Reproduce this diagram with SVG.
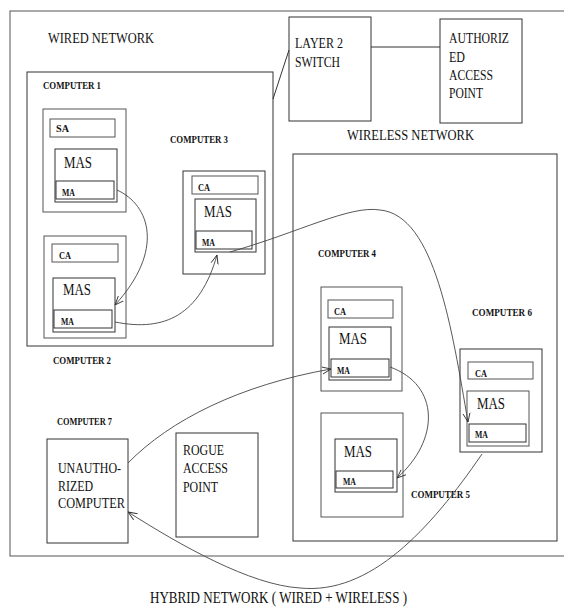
<svg xmlns="http://www.w3.org/2000/svg" width="564" height="608" viewBox="0 0 564 608">
<defs>
<style>
.b{fill:none;stroke:#333;stroke-width:1}
.g{fill:none;stroke:#555;stroke-width:1}
text{font-family:"Liberation Serif","Times New Roman",serif;fill:#111}
.t{font-size:14.5px}
.m{font-size:16px}
.s{font-size:11px;font-weight:bold}
.a{font-size:10px;font-weight:bold}
.h{font-size:16.5px}
.c{fill:none;stroke:#444;stroke-width:0.9}
</style>
<marker id="ah" viewBox="0 0 10 10" refX="10" refY="5" markerWidth="9" markerHeight="9" orient="auto" markerUnits="userSpaceOnUse">
<path d="M0,1 L10,5 L0,9" fill="none" stroke="#333" stroke-width="1"/>
</marker>
</defs>
<rect width="564" height="608" fill="#fff"/>

<g id="hybrid-network">
<rect class="g" x="10" y="11" width="560" height="545"/>
<text class="t" x="48" y="43" textLength="106" lengthAdjust="spacingAndGlyphs">WIRED NETWORK</text>
<text class="h" x="150" y="603" textLength="257" lengthAdjust="spacingAndGlyphs">HYBRID NETWORK ( WIRED + WIRELESS )</text>
</g>

<g id="wireless-network">
<rect class="b" x="293" y="154" width="264" height="387"/>
<text class="t" x="347" y="140" textLength="127" lengthAdjust="spacingAndGlyphs">WIRELESS NETWORK</text>
</g>

<g id="layer2-switch">
<rect class="b" x="289" y="17" width="82" height="104"/>
<text class="t" x="295" y="48" textLength="48" lengthAdjust="spacingAndGlyphs">LAYER 2</text>
<text class="t" x="295" y="67" textLength="45" lengthAdjust="spacingAndGlyphs">SWITCH</text>
</g>

<g id="authorized-ap">
<rect class="b" x="440" y="19" width="82" height="104"/>
<text class="t" x="449" y="43" textLength="60" lengthAdjust="spacingAndGlyphs">AUTHORIZ</text>
<text class="t" x="449" y="62" textLength="16" lengthAdjust="spacingAndGlyphs">ED</text>
<text class="t" x="449" y="80" textLength="44" lengthAdjust="spacingAndGlyphs">ACCESS</text>
<text class="t" x="449" y="98" textLength="34" lengthAdjust="spacingAndGlyphs">POINT</text>
</g>

<g id="wired-lan">
<rect class="b" x="27" y="72" width="246" height="274"/>
</g>

<g id="computer1">
<text class="s" x="43" y="89" textLength="58" lengthAdjust="spacingAndGlyphs">COMPUTER 1</text>
<rect class="g" x="43" y="109" width="83" height="103"/>
<rect class="g" x="50" y="119" width="65" height="18"/>
<text class="a" x="56" y="132" textLength="13" lengthAdjust="spacingAndGlyphs">SA</text>
<rect class="b" x="55" y="149" width="62" height="53"/>
<text class="m" x="64" y="168" textLength="28" lengthAdjust="spacingAndGlyphs">MAS</text>
<rect class="b" x="56" y="181" width="58" height="18"/>
<text class="a" x="62" y="196" textLength="13" lengthAdjust="spacingAndGlyphs">MA</text>
</g>

<g id="computer2">
<rect class="g" x="44" y="236" width="82" height="102"/>
<rect class="g" x="52" y="244" width="66" height="18"/>
<text class="a" x="59" y="259" textLength="12" lengthAdjust="spacingAndGlyphs">CA</text>
<rect class="b" x="53" y="278" width="62" height="54"/>
<text class="m" x="63" y="295" textLength="28" lengthAdjust="spacingAndGlyphs">MAS</text>
<rect class="b" x="54" y="310" width="58" height="18"/>
<text class="a" x="61" y="325" textLength="13" lengthAdjust="spacingAndGlyphs">MA</text>
<text class="s" x="53" y="364" textLength="58" lengthAdjust="spacingAndGlyphs">COMPUTER 2</text>
</g>

<g id="computer3">
<text class="s" x="170" y="143" textLength="58" lengthAdjust="spacingAndGlyphs">COMPUTER 3</text>
<rect class="b" x="183" y="171" width="82" height="103"/>
<rect class="g" x="192" y="176" width="66" height="18"/>
<text class="a" x="198" y="191" textLength="12" lengthAdjust="spacingAndGlyphs">CA</text>
<rect class="b" x="195" y="199" width="61" height="53"/>
<text class="m" x="204" y="217" textLength="28" lengthAdjust="spacingAndGlyphs">MAS</text>
<rect class="b" x="196" y="231" width="56" height="18"/>
<text class="a" x="202" y="246" textLength="13" lengthAdjust="spacingAndGlyphs">MA</text>
</g>

<g id="computer4">
<text class="s" x="318" y="257" textLength="58" lengthAdjust="spacingAndGlyphs">COMPUTER 4</text>
<rect class="g" x="321" y="287" width="81" height="104"/>
<rect class="g" x="328" y="300" width="65" height="18"/>
<text class="a" x="334" y="315" textLength="12" lengthAdjust="spacingAndGlyphs">CA</text>
<rect class="b" x="329" y="327" width="62" height="53"/>
<text class="m" x="339" y="344" textLength="28" lengthAdjust="spacingAndGlyphs">MAS</text>
<rect class="b" x="331" y="359" width="58" height="18"/>
<text class="a" x="337" y="374" textLength="13" lengthAdjust="spacingAndGlyphs">MA</text>
</g>

<g id="computer5">
<rect class="g" x="321" y="413" width="82" height="104"/>
<rect class="b" x="335" y="439" width="62" height="53"/>
<text class="m" x="344" y="457" textLength="28" lengthAdjust="spacingAndGlyphs">MAS</text>
<rect class="b" x="336" y="471" width="57" height="17"/>
<text class="a" x="343" y="485" textLength="13" lengthAdjust="spacingAndGlyphs">MA</text>
<text class="s" x="411" y="498" textLength="59" lengthAdjust="spacingAndGlyphs">COMPUTER 5</text>
</g>

<g id="computer6">
<text class="s" x="472" y="316" textLength="60" lengthAdjust="spacingAndGlyphs">COMPUTER 6</text>
<rect class="b" x="460" y="349" width="82" height="103"/>
<rect class="g" x="468" y="362" width="65" height="17"/>
<text class="a" x="475" y="377" textLength="12" lengthAdjust="spacingAndGlyphs">CA</text>
<rect class="g" x="467" y="391" width="62" height="55"/>
<text class="m" x="477" y="409" textLength="28" lengthAdjust="spacingAndGlyphs">MAS</text>
<rect class="b" x="469" y="424" width="57" height="18"/>
<text class="a" x="475" y="438" textLength="13" lengthAdjust="spacingAndGlyphs">MA</text>
</g>

<g id="computer7">
<text class="s" x="57" y="425" textLength="55" lengthAdjust="spacingAndGlyphs">COMPUTER 7</text>
<rect class="b" x="47" y="439" width="81" height="104"/>
<text class="t" x="58" y="473" textLength="63" lengthAdjust="spacingAndGlyphs">UNAUTHO-</text>
<text class="t" x="58" y="491" textLength="35" lengthAdjust="spacingAndGlyphs">RIZED</text>
<text class="t" x="58" y="508" textLength="67" lengthAdjust="spacingAndGlyphs">COMPUTER</text>
</g>

<g id="rogue-ap">
<rect class="b" x="176" y="433" width="82" height="104"/>
<text class="t" x="183" y="455" textLength="41" lengthAdjust="spacingAndGlyphs">ROGUE</text>
<text class="t" x="183" y="473" textLength="45" lengthAdjust="spacingAndGlyphs">ACCESS</text>
<text class="t" x="183" y="492" textLength="35" lengthAdjust="spacingAndGlyphs">POINT</text>
</g>

<g id="connectors">
<line class="b" x1="273" y1="99" x2="289" y2="50"/>
<line class="b" x1="371" y1="47" x2="440" y2="47"/>
<path class="c" d="M117,190 C150,205 165,250 115,305" marker-end="url(#ah)"/>
<path class="c" d="M115,322 C165,332 200,315 217,255" marker-end="url(#ah)"/>
<path class="c" d="M230,252 C300,232 350,205 380,210 C435,215 452,330 468,422" marker-end="url(#ah)"/>
<path class="c" d="M390,367 C440,385 440,440 397,478" marker-end="url(#ah)"/>
<path class="c" d="M128,463 C170,420 240,385 331,369" marker-end="url(#ah)"/>
<path class="c" d="M482,454 C430,530 370,595 300,588 C250,585 180,545 128,512" marker-end="url(#ah)"/>
</g>
</svg>
